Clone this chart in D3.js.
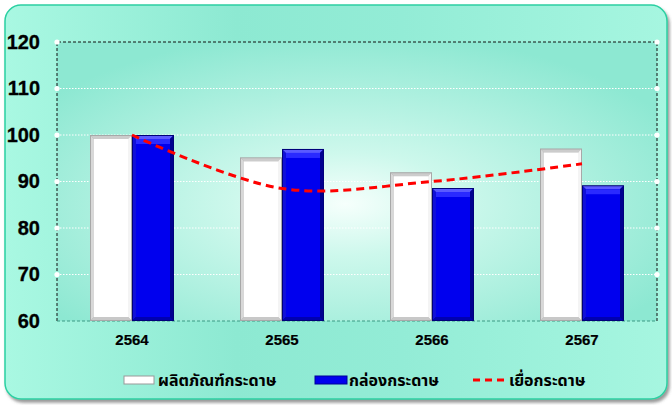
<!DOCTYPE html>
<html><head><meta charset="utf-8">
<script src="https://cdn.jsdelivr.net/npm/d3@7"></script>
<style>body{margin:0;background:#fff;}svg{display:block;}</style>
</head><body>
<script>
const categories = ["2564", "2565", "2566", "2567"];
const productValues = [100, 95.2, 92, 97.1];
const boxValues = [100, 97, 88.6, 89.2];
const tissueValues = [100, 88.5, 90, 93.8];
const seriesNames = ["ผลิตภัณฑ์กระดาษ", "กล่องกระดาษ", "เยื่อกระดาษ"];
const yTicks = [60, 70, 80, 90, 100, 110, 120];

const W = 672, H = 405;
const margin = {left: 57, right: 15, top: 42, bottom: 84};
const svg = d3.select("body").append("svg").attr("width", W).attr("height", H);
const defs = svg.append("defs");

const bgG = defs.append("linearGradient").attr("id","bgG").attr("x1","0").attr("x2","1").attr("y1","0").attr("y2","0");
bgG.append("stop").attr("offset","0").attr("stop-color","#a9f8e2");
bgG.append("stop").attr("offset","0.35").attr("stop-color","#8de9d2");
bgG.append("stop").attr("offset","0.6").attr("stop-color","#93ecd6");
bgG.append("stop").attr("offset","1").attr("stop-color","#a6f6e0");

const plotG = defs.append("radialGradient").attr("id","plotG").attr("cx","0.48").attr("cy","0.58").attr("r","0.62");
plotG.append("stop").attr("offset","0").attr("stop-color","#f6fffc");
plotG.append("stop").attr("offset","0.3").attr("stop-color","#cdf8ec");
plotG.append("stop").attr("offset","1").attr("stop-color","#8de8d2");

const shadowF = defs.append("filter").attr("id","sh").attr("x","-5%").attr("y","-5%").attr("width","110%").attr("height","112%");
shadowF.append("feDropShadow").attr("dx",2).attr("dy",3).attr("stdDeviation",1.5).attr("flood-color","#555").attr("flood-opacity",0.6);

svg.append("rect").attr("x",5).attr("y",5).attr("width",662).attr("height",394).attr("rx",16)
  .attr("fill","url(#bgG)").attr("stroke","#2bd0a2").attr("stroke-width",1.5).attr("filter","url(#sh)");

const x0 = d3.scaleBand().domain(categories).range([margin.left, W - margin.right]).paddingInner(0.44).paddingOuter(0.22);
const x1 = d3.scaleBand().domain([0,1]).range([0, x0.bandwidth()]).padding(0);
const y = d3.scaleLinear().domain([60,120]).range([H - margin.bottom, margin.top]);

const px0 = margin.left, px1 = W - margin.right, py0 = y(120), py1 = y(60);
svg.append("rect").attr("x",px0).attr("y",py0).attr("width",px1-px0).attr("height",py1-py0).attr("fill","url(#plotG)");

svg.append("g").selectAll("line").data(yTicks.filter(t => t>60 && t<120)).join("line")
  .attr("x1",px0).attr("x2",px1).attr("y1",d=>y(d)).attr("y2",d=>y(d))
  .attr("stroke","#ffffff").attr("stroke-width",1).attr("stroke-dasharray","1.5,1.5");

svg.append("path").attr("d",`M${px0},${py1}V${py0}H${px1}V${py1}`).attr("fill","none")
  .attr("stroke","#111").attr("stroke-width",1).attr("stroke-dasharray","3,2");
svg.append("line").attr("x1",px0).attr("x2",px1).attr("y1",py1).attr("y2",py1)
  .attr("stroke","#3a9a84").attr("stroke-width",1).attr("stroke-dasharray","3,2");

const yAxis = d3.axisLeft(y).tickValues(yTicks).tickSize(0).tickPadding(17);
const ya = svg.append("g").attr("transform",`translate(${px0},0)`).call(yAxis);
ya.select(".domain").remove();
ya.selectAll("text").attr("font-family","'Liberation Sans', Arial, sans-serif").attr("font-weight","bold")
  .attr("font-size",20).attr("fill","#000").attr("stroke","#000").attr("stroke-width",0.3);

const circ = yTicks.filter(t=>t>60);
svg.append("g").selectAll("circle").data(circ).join("circle")
  .attr("cx",px0).attr("cy",d=>y(d)).attr("r",2.6).attr("fill","#fff");
svg.append("g").selectAll("circle").data(circ).join("circle")
  .attr("cx",px1).attr("cy",d=>y(d)).attr("r",2.6).attr("fill","#fff");

function bar(g, x, w, v, kind) {
  const top = y(v), bot = y(60), h = bot - top;
  const b = 4;
  if (kind === "white") {
    g.append("rect").attr("x",x).attr("y",top).attr("width",w).attr("height",h).attr("fill","#a8a8a8");
    g.append("path").attr("d",`M${x+1},${top+1}L${x+b},${top+b}V${bot-b}L${x+1},${bot-1}Z`).attr("fill","#d8d8d8");
    g.append("path").attr("d",`M${x+1},${top+1}H${x+w-1}L${x+w-b},${top+b}H${x+b}Z`).attr("fill","#cccccc");
    g.append("path").attr("d",`M${x+w-1},${top+1}V${bot-1}L${x+w-b},${bot-b}V${top+b}Z`).attr("fill","#f4f4f4");
    g.append("path").attr("d",`M${x+1},${bot-1}H${x+w-1}L${x+w-b},${bot-b}H${x+b}Z`).attr("fill","#c8c8c8");
    g.append("rect").attr("x",x+b).attr("y",top+b).attr("width",w-2*b).attr("height",h-2*b).attr("fill","#ffffff");
  } else {
    g.append("rect").attr("x",x).attr("y",top).attr("width",w).attr("height",h).attr("fill","#00007a");
    g.append("path").attr("d",`M${x+1},${top+1}L${x+b},${top+b}V${bot-b}L${x+1},${bot-1}Z`).attr("fill","#1010d8");
    g.append("path").attr("d",`M${x+1},${top+1}H${x+w-1}L${x+w-b},${top+b}H${x+b}Z`).attr("fill","#5a5aff");
    g.append("path").attr("d",`M${x+w-1},${top+1}V${bot-1}L${x+w-b},${bot-b}V${top+b}Z`).attr("fill","#000090");
    g.append("path").attr("d",`M${x+1},${bot-1}H${x+w-1}L${x+w-b},${bot-b}H${x+b}Z`).attr("fill","#0000b0");
    g.append("rect").attr("x",x+b).attr("y",top+b).attr("width",w-2*b).attr("height",h-2*b).attr("fill","#0000ee");
    g.append("rect").attr("x",x+b).attr("y",top+b).attr("width",w-2*b).attr("height",Math.min(5,h-2*b)).attr("fill","#2a2aff");
  }
}
const barsG = svg.append("g");
categories.forEach((c,i) => {
  bar(barsG, x0(c)+x1(0), x1.bandwidth(), productValues[i], "white");
  bar(barsG, x0(c)+x1(1), x1.bandwidth(), boxValues[i], "blue");
});

const lineGen = d3.line().x((d,i)=>x0(categories[i])+x0.bandwidth()/2).y(d=>y(d)).curve(d3.curveCatmullRom.alpha(0.5));
svg.append("path").datum(tissueValues).attr("d",lineGen).attr("fill","none")
  .attr("stroke","#ff0000").attr("stroke-width",3).attr("stroke-dasharray","8,5");

const xa = svg.append("g").attr("transform",`translate(0,${py1})`)
  .call(d3.axisBottom(x0).tickSize(0).tickPadding(13));
xa.select(".domain").remove();
xa.selectAll("text").attr("font-family","'Liberation Sans', Arial, sans-serif").attr("font-weight","bold")
  .attr("font-size",15).attr("fill","#000").attr("stroke","#000").attr("stroke-width",0.2);

const lg = svg.append("g").attr("font-family","'Noto Sans Thai','Noto Sans', 'Liberation Sans', sans-serif").attr("font-weight","bold").attr("font-size",16).attr("fill","#000");
const legendItems = [
  {name: seriesNames[0], x: 124, kind: "white"},
  {name: seriesNames[1], x: 315, kind: "blue"},
  {name: seriesNames[2], x: 473, kind: "line"}
];
legendItems.forEach(it => {
  const ly = 380;
  if (it.kind === "white") {
    lg.append("rect").attr("x",it.x).attr("y",ly-4).attr("width",30).attr("height",8).attr("fill","#fff").attr("stroke","#999").attr("stroke-width",1);
  } else if (it.kind === "blue") {
    lg.append("rect").attr("x",it.x).attr("y",ly-4).attr("width",32).attr("height",8).attr("fill","#0000ee").attr("stroke","#000099").attr("stroke-width",1);
  } else {
    lg.append("line").attr("x1",it.x).attr("x2",it.x+31).attr("y1",ly).attr("y2",ly).attr("stroke","#ff0000").attr("stroke-width",3).attr("stroke-dasharray","7,5");
  }
  lg.append("text").attr("x", it.x + (it.kind==="line"?36:34)).attr("y", ly).attr("dy","0.35em").text(it.name);
});
</script>
</body></html>
